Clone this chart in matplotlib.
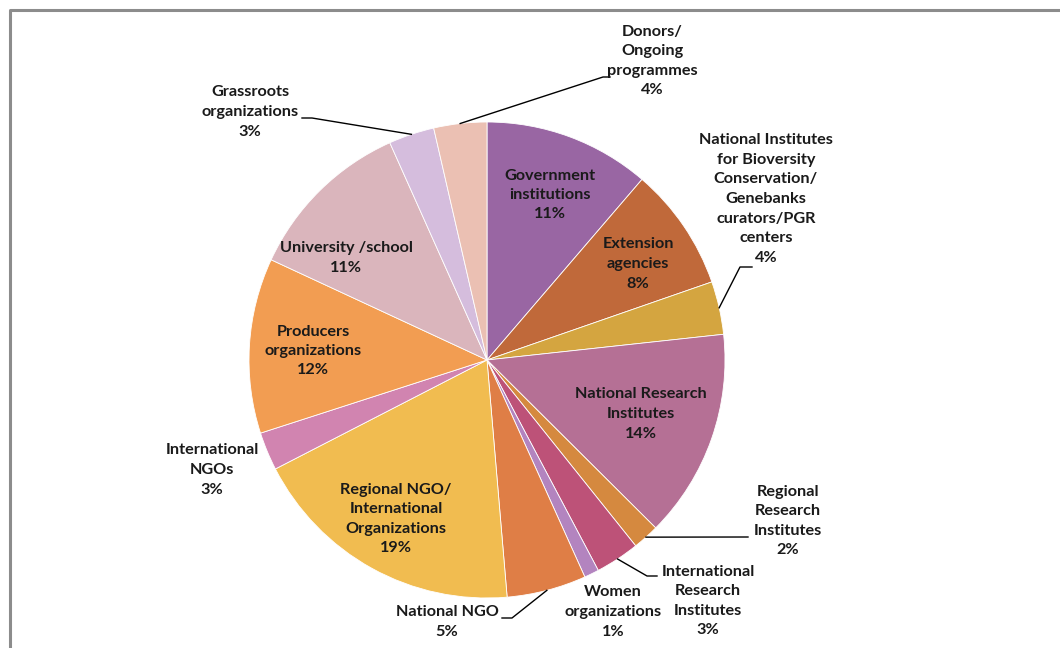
import numpy as np
import matplotlib.pyplot as plt

W, H = 1060, 648

labels = ["Government\ninstitutions", "Extension\nagencies",
          "National Institutes\nfor Bioversity\nConservation/\nGenebanks\ncurators/PGR\ncenters",
          "National Research\nInstitutes", "Regional\nResearch\nInstitutes",
          "International\nResearch\nInstitutes", "Women\norganizations", "National NGO",
          "Regional NGO/\nInternational\nOrganizations", "International\nNGOs",
          "Producers\norganizations", "University /school", "Grassroots\norganizations",
          "Donors/\nOngoing\nprogrammes"]
shares = [11.3, 8.4, 3.6, 14.2, 1.8, 3.0, 1.0, 5.4, 18.8, 2.6, 11.9, 11.4, 3.1, 3.6]
colors = ["#9966a3", "#c0693a", "#d4a540", "#b57095", "#d5893f", "#bd5278", "#b384bf",
          "#df7e46", "#f1bc50", "#d184b0", "#f29d52", "#dab5bc", "#d5bddd", "#ebc0b3"]

# label centre (px from top-left) and optional leader elbow points
text_pos = [(550, 195), (638, 264), (766, 199), (641, 414), (788, 521), (708, 601),
            (613, 612), (447, 622), (396, 519), (212, 470), (313, 351), (346, 258),
            (250, 112), (652, 61)]
leaders = {2: [(740, 267), (752, 267)],
           4: [(748, 537)],
           5: [(647, 576), (657, 576)],
           7: [(512, 618), (502, 618)],
           12: [(312, 118), (302, 118)],
           13: [(603, 77), (610, 77)]}

cx, cy, r = 487, 360, 238

fig = plt.figure(figsize=(W / 100, H / 100), dpi=100)
ax = fig.add_axes([0, 0, 1, 1])
wedges, _ = ax.pie(shares, colors=colors, startangle=90, counterclock=False,
                   center=(cx, H - cy), radius=r,
                   wedgeprops=dict(edgecolor="white", linewidth=0.6))
ax.set_xlim(0, W)
ax.set_ylim(0, H)
ax.set_aspect("equal")
ax.axis("off")

font = dict(family=["Lato", "DejaVu Sans"], fontweight="bold", fontsize=11.7,
            color="#1a1a1a", ha="center", va="center", linespacing=1.5)

for i, (lab, v) in enumerate(zip(labels, shares)):
    x, y = text_pos[i]
    ax.text(x, H - y, f"{lab}\n{v:.0f}%", **font)
    if i in leaders:
        w = wedges[i]
        mid = np.deg2rad((w.theta1 + w.theta2) / 2)
        pts = [(cx + r * np.cos(mid), H - cy + r * np.sin(mid))]
        pts += [(px, H - py) for px, py in leaders[i]]
        xs, ys = zip(*pts)
        ax.plot(xs, ys, color="black", lw=1)

# chart frame
ax.plot([10, 10, W + 5], [-5, H - 10, H - 10], color="#8c8c8c", lw=2.2,
        clip_on=False)

fig.savefig("out.png", dpi=100)
